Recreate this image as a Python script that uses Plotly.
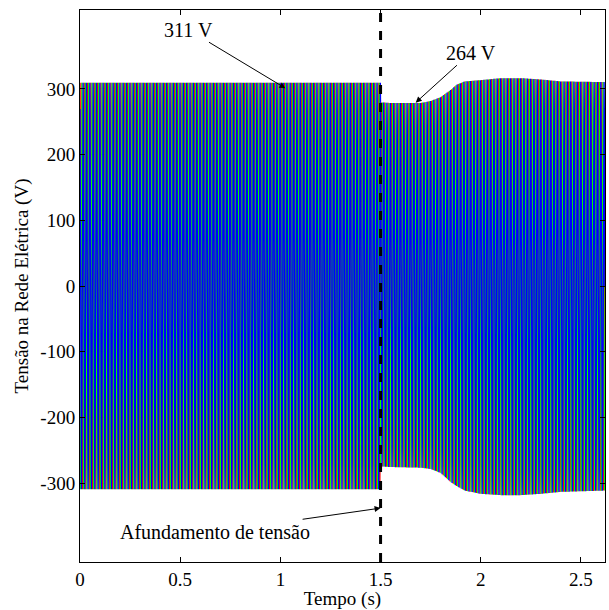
import numpy as np
import plotly.graph_objects as go

# Envelope of the three-phase grid voltage
t_env = [0.0, 1.5, 1.501, 1.55, 1.70, 1.75, 1.80, 1.85, 1.88, 1.92, 2.0, 2.1, 2.2, 2.3, 2.4, 2.62]
amp_upper = [311, 311, 281, 280, 280, 283, 289, 300, 308, 313, 315, 318, 318, 316, 313, 312]
amp_lower = [311, 311, 276, 277, 278, 280, 286, 300, 306, 313, 318, 320, 320, 318, 315, 313]
freq_hz = 60
phase_deg = {"red": 0, "lime": -120, "blue": 120}

x_ticks = [0, 0.5, 1, 1.5, 2, 2.5]
x_ticklabels = ["0", "0.5", "1", "1.5", "2", "2.5"]
y_ticks = [-300, -200, -100, 0, 100, 200, 300]
y_ticklabels = ["-300", "-200", "-100", "0", "100", "200", "300"]

t = np.arange(0, 2.62, 1 / 1800)
up = np.interp(t, t_env, amp_upper)
lo = np.interp(t, t_env, amp_lower)

fig = go.Figure()
for color, ph in phase_deg.items():
    s = np.sin(2 * np.pi * freq_hz * t + np.deg2rad(ph))
    v = np.where(s >= 0, up * s, lo * s)
    fig.add_trace(go.Scatter(x=t, y=v, mode="lines",
                             line=dict(color=color, width=1.3),
                             showlegend=False, hoverinfo="skip"))

fig.add_shape(type="line", x0=1.5, x1=1.5, y0=0, y1=1, xref="x", yref="paper",
              line=dict(color="black", width=3, dash="dash"))

font = dict(family="Liberation Serif", size=19, color="black")
ann_font = dict(family="Liberation Serif", size=20, color="black")

ann = [
    dict(text="311 V", x=1.025, y=301, ax=0.54, ay=390),
    dict(text="264 V", x=1.675, y=279, ax=1.95, ay=355),
    dict(text="Afundamento de tensão", x=1.5, y=-338, ax=0.675, ay=-374),
]
for a in ann:
    fig.add_annotation(text=a["text"], x=a["x"], y=a["y"], ax=a["ax"], ay=a["ay"],
                       xref="x", yref="y", axref="x", ayref="y",
                       showarrow=True, arrowhead=2, arrowsize=1.2, arrowwidth=1,
                       arrowcolor="black", font=ann_font, bgcolor="rgba(0,0,0,0)")

fig.update_layout(
    width=609, height=610,
    margin=dict(l=80, r=4, t=10, b=48),
    plot_bgcolor="white", paper_bgcolor="white",
    font=font,
    xaxis=dict(range=[0, 2.62], tickvals=x_ticks, ticktext=x_ticklabels,
               ticks="inside", ticklen=5, tickcolor="black", showgrid=False,
               zeroline=False, showline=True, linecolor="black", linewidth=1,
               mirror="ticks", tickfont=font,
               title=dict(text="Tempo (s)", standoff=0, font=font)),
    yaxis=dict(range=[-420, 420], tickvals=y_ticks, ticktext=y_ticklabels,
               ticks="inside", ticklen=5, tickcolor="black", showgrid=False,
               zeroline=False, showline=True, linecolor="black", linewidth=1,
               mirror="ticks", tickfont=font,
               title=dict(text="Tensão na Rede Elétrica (V)", standoff=6, font=font)),
)

fig.write_html("out.html")
